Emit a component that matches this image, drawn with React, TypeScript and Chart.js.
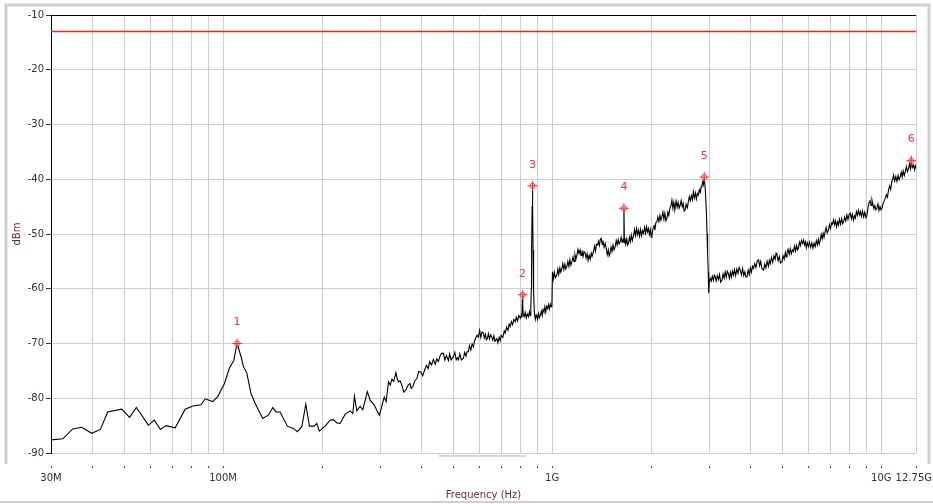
import React, { useEffect, useRef } from 'react';
import { Chart, registerables } from 'chart.js';

Chart.register(...registerables);

// ---------- axis definitions ----------
const xMinMHz = 30;
const xMaxMHz = 12750;
const xGridValues = [
  30, 40, 50, 60, 70, 80, 90, 100, 200, 300, 400, 500, 600, 700, 800, 900,
  1000, 2000, 3000, 4000, 5000, 6000, 7000, 8000, 9000, 10000, 12750,
];
const xLabelValues = [30, 100, 1000, 10000, 12750];
const xLabelTexts = ['30M', '100M', '1G', '10G', '12.75G'];
const yMin = -90;
const yMax = -10;
const yStep = 10;
const xTitle = 'Frequency (Hz)';
const yTitle = 'dBm';

// ---------- limit line ----------
const limitDbm = -13;

// ---------- markers ----------
const markerFreqMHz = [110.3, 813, 871, 1652, 2897, 12340];
const markerDbm = [-70.0, -61.1, -41.2, -45.3, -39.6, -36.6];
const markerLabels = ['1', '2', '3', '4', '5', '6'];

// ---------- trace: 30 MHz - 300 MHz ----------
const lowFreqMHz = [
  30, 32.6, 34.9, 37.2, 39.9, 42.4, 44.6, 49.2, 52.0, 54.5, 59.3, 61.8, 64.5, 67.1, 71.5, 76.7, 80.9,
  85.7, 88.2, 93.0, 96.3, 101, 104.5, 107.8, 110.3, 113.4, 115.3, 118.1, 121.5, 125.1, 132.0, 137.3,
  141.6, 144.9, 149.0, 156.8, 163.6, 168.2, 173.5, 178.4, 183.0, 189.1, 192.6, 196.2, 204.2, 211.5,
  216.4, 221.6, 226.8, 235.0, 243.3, 247.9, 250.7, 254.9, 260.9, 265.8, 274.4, 279.6, 287.7, 298.5,
];
const lowDbm = [
  -87.6, -87.4, -85.6, -85.3, -86.4, -85.7, -82.5, -82.0, -83.5, -81.7, -84.9, -84.0, -85.7, -85.0, -85.4, -82.0, -81.4,
  -81.2, -80.1, -80.6, -79.7, -77.3, -74.5, -73.1, -70.0, -72.4, -74.2, -75.4, -79.1, -80.9, -83.7, -83.1,
  -81.7, -82.5, -82.5, -85.1, -85.5, -86.1, -85.2, -81.1, -85.1, -85.1, -84.6, -86.0, -85.1, -84.0,
  -83.9, -84.5, -84.6, -82.9, -82.3, -82.8, -79.6, -82.3, -81.5, -82.1, -78.8, -80.3, -81.2, -83.1,
];

// ---------- trace: 300 MHz - 1 GHz ----------
const midFreqMHz = [
  308.8, 313, 318.2, 322, 325.9, 330, 335.1, 338, 341.2, 345, 349.3, 354, 360, 365, 370, 373, 377, 382,
  388, 393, 399, 404, 410, 415, 420, 424, 430, 435.7, 441, 446, 451.1, 456, 461, 467.2, 472, 477, 483.8,
  488, 493, 501, 506, 511, 515, 519, 524, 530, 537.4, 542, 547, 551, 556.5, 561, 566, 571, 576.3, 581,
  586, 591, 596.8, 602, 607, 612, 618, 622, 627, 631, 635.4, 640, 645, 650, 655.6, 660, 665, 670, 679,
  684, 690, 695, 700, 708, 715, 720, 727, 734, 740, 745.4, 752, 758, 765, 772, 778, 785, 792, 800, 806,
  809, 811, 813, 815, 817, 822, 828, 834, 840, 847, 853, 858, 861, 864, 866, 869, 871, 873, 875, 878,
  883, 889, 894, 898, 903, 909, 915, 921, 927, 933, 938, 944, 950, 956, 962, 969, 975, 981, 987, 993, 998,
];
const midDbm = [
  -79.8, -80.6, -77.0, -77.6, -76.5, -76.9, -75.3, -76.4, -77.0, -76.8, -77.6, -78.9, -78.4, -77.6, -77.3, -78.2, -77.9, -76.9,
  -76.4, -75.1, -75.2, -75.9, -74.8, -74.0, -74.6, -73.3, -73.9, -72.9, -73.8, -72.8, -73.3, -72.3, -71.8, -71.8, -73.0, -72.2, -73.1,
  -71.9, -73.0, -72.4, -71.6, -73.0, -72.6, -73.0, -71.9, -73.0, -72.7, -71.6, -72.3, -71.5, -71.5, -70.4, -71.2, -70.1, -70.6, -69.5,
  -69.0, -68.5, -68.8, -67.6, -68.9, -67.9, -68.1, -69.0, -68.3, -69.3, -69.1, -68.2, -69.2, -68.4, -68.8, -69.4, -68.6, -69.6, -69.1,
  -69.9, -68.9, -69.5, -68.5, -68.9, -67.7, -68.1, -67.0, -67.6, -66.5, -66.9, -66.0, -66.6, -65.6, -66.0, -65.2, -65.9, -64.9, -65.4, -64.8,
  -65.3, -62.5, -61.1, -63.0, -64.9, -65.1, -64.3, -65.3, -64.6, -65.1, -64.2, -64.9, -63.9, -60.0, -52.9, -45.0, -41.2, -45.0, -52.9, -60.5,
  -64.5, -65.6, -64.8, -65.1, -65.6, -64.5, -65.3, -64.8, -64.1, -64.9, -63.8, -64.2, -63.3, -64.3, -63.2, -63.6, -62.9, -63.7, -62.8, -63.3, -63.0,
];

// ---------- trace: 1 GHz - 12.75 GHz ----------
const highFreqMHz = [
  1002, 1008, 1015, 1022, 1033, 1040, 1047, 1055, 1062, 1070, 1077, 1085, 1093, 1100, 1108, 1116, 1124, 1132,
  1140, 1148, 1157, 1165, 1173, 1181, 1189, 1198, 1207, 1216, 1224, 1232, 1241, 1250, 1260, 1268, 1277, 1286,
  1295, 1305, 1314, 1322, 1335, 1345, 1354, 1363, 1373, 1382, 1391, 1400, 1409, 1418, 1427, 1438, 1449, 1460,
  1470, 1481, 1490, 1500, 1510, 1520, 1531, 1542, 1554, 1565, 1576, 1587, 1598, 1609, 1620, 1630, 1640, 1646,
  1652, 1658, 1664, 1674, 1685, 1696, 1706, 1717, 1728, 1740, 1752, 1768, 1780, 1792, 1805, 1818, 1830, 1843,
  1856, 1869, 1882, 1895, 1910, 1922, 1936, 1949, 1962, 1975, 1990, 2000, 2010, 2025, 2040, 2052, 2066, 2081,
  2095, 2110, 2125, 2140, 2155, 2170, 2185, 2200, 2216, 2232, 2247, 2262, 2280, 2295, 2311, 2327, 2343, 2358,
  2365, 2380, 2397, 2414, 2431, 2449, 2466, 2484, 2501, 2518, 2536, 2553, 2575, 2593, 2611, 2630, 2650, 2668,
  2686, 2705, 2724, 2743, 2762, 2781, 2800, 2820, 2835, 2850, 2866, 2880, 2897, 2920, 2940, 2955, 2967, 2980,
  2990, 3000, 3022, 3045, 3065, 3090, 3110, 3130, 3150, 3175, 3200, 3225, 3250, 3280, 3305, 3330, 3355, 3380,
  3405, 3430, 3455, 3480, 3505, 3530, 3555, 3580, 3610, 3640, 3670, 3700, 3730, 3760, 3790, 3820, 3850, 3880,
  3910, 3940, 3970, 4000, 4030, 4060, 4090, 4125, 4160, 4200, 4238, 4270, 4300, 4340, 4390, 4425, 4460, 4500,
  4540, 4570, 4600, 4640, 4680, 4720, 4760, 4790, 4820, 4860, 4900, 4940, 4990, 5030, 5070, 5110, 5140, 5170,
  5210, 5250, 5290, 5330, 5370, 5410, 5450, 5490, 5530, 5570, 5600, 5640, 5680, 5720, 5760, 5800, 5840, 5880,
  5920, 5960, 6010, 6050, 6100, 6150, 6200, 6250, 6300, 6350, 6400, 6440, 6480, 6520, 6570, 6610, 6660, 6700,
  6750, 6800, 6850, 6910, 6960, 7010, 7060, 7110, 7160, 7210, 7260, 7310, 7360, 7410, 7460, 7520, 7580, 7630,
  7680, 7740, 7800, 7860, 7920, 7990, 8050, 8110, 8170, 8230, 8290, 8340, 8400, 8460, 8520, 8580, 8640, 8700,
  8770, 8840, 8910, 8980, 9050, 9120, 9180, 9250, 9310, 9370, 9430, 9500, 9560, 9630, 9700, 9770, 9840, 9910,
  9980, 10050, 10130, 10200, 10280, 10360, 10440, 10520, 10600, 10680, 10760, 10830, 10900, 10980, 11070, 11160, 11250, 11330,
  11420, 11500, 11580, 11660, 11750, 11830, 11920, 12010, 12100, 12180, 12260, 12340, 12420, 12540, 12620, 12700, 12750,
];
const highDbm = [
  -56.9, -58.2, -57.0, -58.0, -57.5, -56.4, -57.4, -56.2, -57.0, -56.3, -55.4, -56.5, -55.5, -56.4, -56.0, -55.0, -55.9, -54.7,
  -55.7, -55.1, -54.2, -55.0, -53.8, -54.6, -53.8, -52.8, -53.6, -52.9, -53.9, -53.0, -54.1, -53.2, -53.5, -54.4, -53.6, -54.8,
  -53.9, -54.6, -53.5, -54.1, -53.2, -52.2, -53.1, -51.9, -52.0, -51.3, -52.1, -51.0, -50.8, -51.9, -51.2, -52.4, -51.7, -52.7,
  -53.8, -52.9, -54.0, -53.5, -52.4, -53.2, -52.0, -52.9, -52.3, -51.2, -52.0, -51.0, -51.8, -51.4, -50.6, -51.5, -50.8, -51.4,
  -45.3, -51.6, -50.8, -51.9, -50.9, -52.0, -51.7, -50.6, -51.4, -50.2, -51.2, -50.2, -49.2, -50.3, -49.0, -50.1, -49.3, -50.4,
  -49.2, -50.3, -49.4, -49.9, -48.8, -49.9, -48.7, -49.6, -49.0, -50.1, -49.2, -50.6, -50.2, -49.0, -48.5, -49.3, -47.9, -47.8,
  -46.9, -47.7, -46.6, -47.5, -46.8, -46.0, -47.3, -46.2, -47.6, -47.1, -46.0, -46.6, -45.2, -44.9, -43.8, -45.3, -44.2, -45.6,
  -45.0, -44.0, -45.1, -44.2, -45.3, -44.7, -43.9, -45.0, -44.4, -45.8, -45.6, -44.6, -45.2, -44.1, -43.2, -43.9, -43.0, -43.7,
  -42.3, -43.4, -42.5, -43.6, -42.6, -42.9, -41.9, -42.4, -41.4, -41.1, -40.5, -41.0, -39.6, -42.0, -45.6, -50.0, -53.5, -57.0,
  -60.8, -59.0, -58.1, -58.6, -57.7, -58.5, -57.5, -57.8, -58.6, -57.6, -58.3, -57.4, -58.8, -58.4, -57.3, -58.1, -56.9, -57.9,
  -56.8, -57.2, -58.1, -57.0, -57.9, -56.8, -57.5, -56.5, -57.6, -56.4, -57.2, -56.1, -56.6, -57.5, -56.3, -57.6, -56.9, -57.9,
  -57.8, -56.6, -57.4, -56.2, -57.0, -55.9, -56.3, -55.4, -56.1, -54.9, -54.7, -55.8, -55.0, -56.3, -56.6, -55.5, -56.2, -55.0,
  -55.9, -54.8, -55.4, -54.3, -55.2, -54.0, -54.6, -53.5, -53.8, -54.9, -54.1, -55.3, -55.1, -54.0, -54.6, -53.4, -54.2, -53.5,
  -52.8, -53.7, -52.7, -53.6, -52.9, -53.2, -52.2, -53.1, -52.1, -52.9, -52.6, -51.5, -52.1, -51.2, -51.7, -51.1, -52.0, -51.4,
  -52.5, -51.6, -52.3, -51.5, -52.4, -51.6, -52.6, -51.7, -52.3, -51.2, -52.0, -51.0, -51.8, -51.1, -50.1, -50.9, -49.9, -50.6,
  -49.6, -48.8, -49.8, -49.3, -48.3, -49.0, -48.0, -48.2, -47.4, -48.3, -47.6, -48.7, -47.8, -48.4, -47.3, -48.2, -47.2, -48.1,
  -47.8, -46.9, -47.6, -46.5, -47.3, -46.4, -46.2, -47.2, -46.4, -47.5, -46.7, -47.1, -45.9, -46.6, -45.7, -46.5, -45.9, -46.8,
  -45.8, -46.9, -46.0, -47.0, -46.5, -45.1, -44.3, -43.9, -44.8, -43.8, -44.6, -45.4, -44.8, -45.6, -45.3, -44.5, -45.7, -45.0,
  -45.6, -45.3, -44.4, -44.0, -43.5, -42.8, -43.3, -42.0, -41.2, -41.9, -40.5, -40.0, -39.2, -40.3, -39.5, -40.4, -39.3, -40.1,
  -39.5, -38.7, -39.6, -38.5, -39.3, -38.6, -37.7, -38.6, -38.0, -37.2, -38.1, -36.6, -37.9, -37.4, -38.3, -37.6, -38.0,
];

const FONT = '"DejaVu Sans", "Liberation Sans", sans-serif';
const TICK_COLOR = '#3a2a38';
const TITLE_COLOR = '#6a2a40';
const GRID_COLOR = '#cdcdcd';
const MARK_RED = '#ff3030';

const toPoints = (xs: number[], ys: number[]) => xs.map((x, i) => ({ x, y: ys[i] }));

const overlayPlugin = {
  id: 'overlay',
  afterDraw(chart: any) {
    const ctx = chart.ctx as CanvasRenderingContext2D;
    const xs = chart.scales.x;
    const ys = chart.scales.y;
    const area = chart.chartArea;
    const W = chart.width;
    ctx.save();

    // outer panel frame
    ctx.strokeStyle = '#cfcfcf';
    ctx.lineWidth = 3;
    ctx.beginPath();
    ctx.moveTo(6, 464);
    ctx.lineTo(6, 5);
    ctx.lineTo(929, 5);
    ctx.lineTo(929, 464);
    ctx.stroke();
    ctx.lineWidth = 2;
    ctx.beginPath();
    ctx.moveTo(0, 502);
    ctx.lineTo(W, 502);
    ctx.stroke();

    // scroll indicator under plot
    ctx.strokeStyle = '#d6d6d6';
    ctx.lineWidth = 2;
    ctx.beginPath();
    ctx.moveTo(439, area.bottom + 3);
    ctx.lineTo(526, area.bottom + 3);
    ctx.stroke();

    // black top border of plot
    ctx.strokeStyle = '#000';
    ctx.lineWidth = 1;
    ctx.beginPath();
    ctx.moveTo(area.left, Math.round(area.top) + 0.5);
    ctx.lineTo(area.right, Math.round(area.top) + 0.5);
    ctx.stroke();

    // x tick marks (detached from axis)
    ctx.strokeStyle = '#444';
    ctx.lineWidth = 1;
    xGridValues.forEach((v) => {
      const px = Math.round(xs.getPixelForValue(v)) + 0.5;
      ctx.beginPath();
      ctx.moveTo(px, area.bottom + 13);
      ctx.lineTo(px, area.bottom + 15);
      ctx.stroke();
    });

    // x tick labels
    ctx.font = `10px ${FONT}`;
    ctx.fillStyle = TICK_COLOR;
    ctx.textAlign = 'center';
    ctx.textBaseline = 'middle';
    xLabelValues.forEach((v, i) => {
      const w = ctx.measureText(xLabelTexts[i]).width;
      let px = xs.getPixelForValue(v);
      px = Math.min(px, W - w / 2 - 1);
      ctx.fillText(xLabelTexts[i], px, area.bottom + 25);
    });

    // axis titles
    ctx.fillStyle = TITLE_COLOR;
    ctx.fillText(xTitle, (area.left + area.right) / 2, 495);
    ctx.save();
    ctx.translate(17, (area.top + area.bottom) / 2);
    ctx.rotate(-Math.PI / 2);
    ctx.fillText(yTitle, 0, 0);
    ctx.restore();

    // marker labels
    ctx.font = `11px ${FONT}`;
    ctx.fillStyle = MARK_RED;
    markerFreqMHz.forEach((f, i) => {
      const px = xs.getPixelForValue(f);
      const py = ys.getPixelForValue(markerDbm[i]);
      ctx.fillText(markerLabels[i], px, py - 21);
    });

    ctx.restore();
  },
};

export default function App() {
  const canvasRef = useRef<HTMLCanvasElement | null>(null);

  useEffect(() => {
    document.body.style.margin = '0';
    const canvas = canvasRef.current;
    if (!canvas) return;

    const trace = [
      ...toPoints(lowFreqMHz, lowDbm),
      ...toPoints(midFreqMHz, midDbm),
      ...toPoints(highFreqMHz, highDbm),
    ];
    const markers = toPoints(markerFreqMHz, markerDbm);
    const limit = [
      { x: xMinMHz, y: limitDbm },
      { x: xMaxMHz, y: limitDbm },
    ];

    const chart = new Chart(canvas, {
      type: 'scatter',
      data: {
        datasets: [
          {
            data: markers,
            pointStyle: 'cross',
            pointRadius: 5,
            pointBorderColor: MARK_RED,
            pointBorderWidth: 1,
            showLine: false,
            order: 0,
          },
          {
            data: markers,
            pointStyle: 'circle',
            pointRadius: 2.5,
            pointBorderColor: MARK_RED,
            pointBackgroundColor: 'rgba(255,255,255,0.6)',
            pointBorderWidth: 1,
            showLine: false,
            order: 0,
          },
          {
            data: limit,
            showLine: true,
            borderColor: '#ff2020',
            backgroundColor: '#ff2020',
            borderWidth: 1.5,
            pointRadius: 0,
            order: 1,
          },
          {
            data: trace,
            showLine: true,
            borderColor: '#000000',
            borderWidth: 1.1,
            pointRadius: 0,
            tension: 0,
            order: 2,
          },
        ],
      } as any,
      options: {
        animation: false,
        responsive: false,
        devicePixelRatio: 1,
        layout: { padding: { left: 0, top: 15, right: 17, bottom: 0 } },
        plugins: {
          legend: { display: false },
          tooltip: { enabled: false },
        },
        scales: {
          x: {
            type: 'logarithmic',
            min: xMinMHz,
            max: xMaxMHz,
            afterBuildTicks: (scale: any) => {
              scale.ticks = xGridValues.map((v) => ({ value: v }));
            },
            afterFit: (scale: any) => {
              scale.height = 51;
            },
            ticks: { display: false },
            grid: { color: GRID_COLOR, drawTicks: false, lineWidth: 1 },
            border: { display: false },
          },
          y: {
            type: 'linear',
            min: yMin,
            max: yMax,
            afterFit: (scale: any) => {
              scale.width = 51;
            },
            ticks: {
              stepSize: yStep,
              color: TICK_COLOR,
              font: { family: FONT, size: 10 },
              padding: 2,
            },
            grid: { color: GRID_COLOR, tickLength: 5, tickColor: '#333', lineWidth: 1 },
            border: { display: true, color: '#000', width: 1 },
          },
        },
      } as any,
      plugins: [overlayPlugin],
    });

    return () => chart.destroy();
  }, []);

  return (
    <div style={{ position: 'absolute', left: 0, top: 0, width: 933, height: 504, background: '#fff' }}>
      <canvas ref={canvasRef} width={933} height={504} style={{ width: 933, height: 504, display: 'block' }} />
    </div>
  );
}
